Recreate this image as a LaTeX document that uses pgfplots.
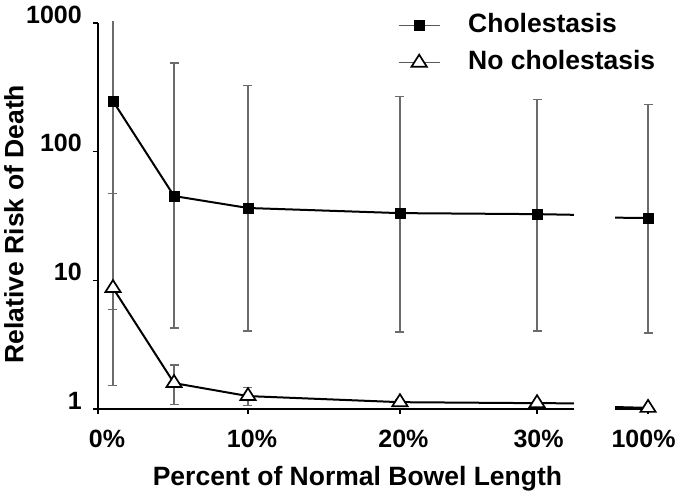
\documentclass[border=0pt]{standalone}
\usepackage{fontspec}
\setmainfont{Liberation Sans}
\usepackage{pgfplots}
\pgfplotsset{compat=1.18}
\definecolor{errgray}{gray}{0.42}
\newcommand{\tf}{\fontsize{25}{30}\selectfont\bfseries}
\begin{document}
\begin{tikzpicture}
\path[use as bounding box] (-98pt,-87pt) rectangle (585pt,409pt);
\begin{axis}[
  at={(0pt,0pt)}, anchor=south west,
  scale only axis, width=558pt, height=386pt,
  xmin=0, xmax=37.2, ymin=1, ymax=1000, ymode=log,
  clip=false,
  axis x line=bottom, axis y line=left,
  axis line style={-, line width=2pt, black},
  x axis line style={draw=none},
  xtick={0,10,20.13,29.27,36.67},
  xticklabels={{\tf\hspace*{18pt}0\%},{\tf\hspace*{8pt}10\%},{\tf\hspace*{7pt}20\%},{\tf\hspace*{3pt}30\%},{\tf 100\%\hspace*{9pt}}},
  ytick={1,10,100,1000}, yticklabels={{\tf 1},{\tf 10},{\tf 100},{\tf 1000}},
  yminorticks=false, xminorticks=false,
  tick align=outside, major tick length=5pt,
  tick style={line width=1.5pt, black},
  ticklabel style={inner sep=0pt},
  yticklabel style={anchor=base east, xshift=-11pt},
  xticklabel style={anchor=north, yshift=-16pt},
  xlabel={Percent of Normal Bowel Length},
  ylabel={Relative Risk of Death},
  label style={font=\fontsize{26.5}{30}\selectfont\bfseries},
  xlabel style={at={(axis description cs:0.465,-0.197)}, anchor=base},
  ylabel style={at={(axis description cs:-0.1505,0.479)}, anchor=center},
  legend style={at={(axis description cs:0.5376,1.026)}, anchor=north west, draw=none, fill=none,
    inner sep=0pt, row sep=12pt, column sep=28pt,
    nodes={inner sep=0pt, text height=19pt, text depth=6pt, font=\fontsize{26.5}{30}\selectfont\bfseries}},
  legend cell align=left,
  legend image code/.code={
    \draw[#1, mark=none, line width=1pt, draw=gray!70!black] (0pt,0pt) -- (41pt,0pt);
    \draw[#1] plot coordinates {(20.5pt,0pt)};
  },
]
% error bars: cholestasis
\addplot[only marks, mark=none, forget plot,
  error bars/.cd, y dir=both, y explicit,
  error bar style={line width=1.2pt, errgray},
  error mark options={rotate=90, line width=1.2pt, mark size=4.5pt, errgray}]
  coordinates {
  (1,247) += (0,0) -= (0,241.1)
  (5.07,45.2) += (0,442.8) -= (0,40.94)
  (10,36.5) += (0,292.5) -= (0,32.46)
  (20.13,33.3) += (0,236.7) -= (0,29.33)
  (29.27,32.7) += (0,223.3) -= (0,28.66)
  (36.67,30.5) += (0,203.5) -= (0,26.6)
  };
\addplot[only marks, mark=none, forget plot,
  error bars/.cd, y dir=plus, y explicit, error mark=none,
  error bar style={line width=1.2pt, errgray}]
  coordinates {(1,247) += (0,793)};
% error bars: no cholestasis
\addplot[only marks, mark=none, forget plot,
  error bars/.cd, y dir=both, y explicit,
  error bar style={line width=1.2pt, errgray},
  error mark options={rotate=90, line width=1.2pt, mark size=4.5pt, errgray}]
  coordinates {
  (1,8.71) += (0,38.3) -= (0,7.18)
  (5.07,1.59) += (0,0.61) -= (0,0.50)
  (10,1.26) += (0,0.21) -= (0,0.20)
  (20.13,1.13) += (0,0.05) -= (0,0.04)
  (29.27,1.11) += (0,0.03) -= (0,0.03)
  (36.67,1.02) += (0,0.02) -= (0,0.02)
  };
% x axis (broken)
\draw[line width=2pt, black] (axis cs:0,1) -- (axis cs:31.73,1);
\draw[line width=2pt, black] (axis cs:34.47,1) -- (axis cs:36.8,1);
% cholestasis
\addplot[black, line width=2pt, mark=square*, mark size=5pt,
  mark options={solid, fill=black, line width=0.5pt}, mark indices={1,2,3,4,5}]
  coordinates {(1,247) (5.07,45.2) (10,36.5) (20.13,33.3) (29.27,32.7) (31.73,32.3)};
\addlegendentry{Cholestasis}
\addplot[black, line width=2pt, mark=square*, mark size=5pt, forget plot,
  mark options={solid, fill=black, line width=0.5pt}, mark indices={2}]
  coordinates {(34.47,30.7) (36.67,30.5)};
% no cholestasis
\addplot[black, line width=2pt, mark=triangle*, mark size=8pt,
  mark options={solid, fill=white, line width=1.7pt, xscale=1.1}, mark indices={1,2,3,4,5}]
  coordinates {(1,8.71) (5.07,1.59) (10,1.26) (20.13,1.13) (29.27,1.11) (31.73,1.107)};
\addlegendentry{No cholestasis}
\addplot[black, line width=2pt, mark=triangle*, mark size=8pt, forget plot,
  mark options={solid, fill=white, line width=1.7pt, xscale=1.1}, mark indices={2}]
  coordinates {(34.47,1.036) (36.67,1.02)};
\end{axis}
\end{tikzpicture}
\end{document}
